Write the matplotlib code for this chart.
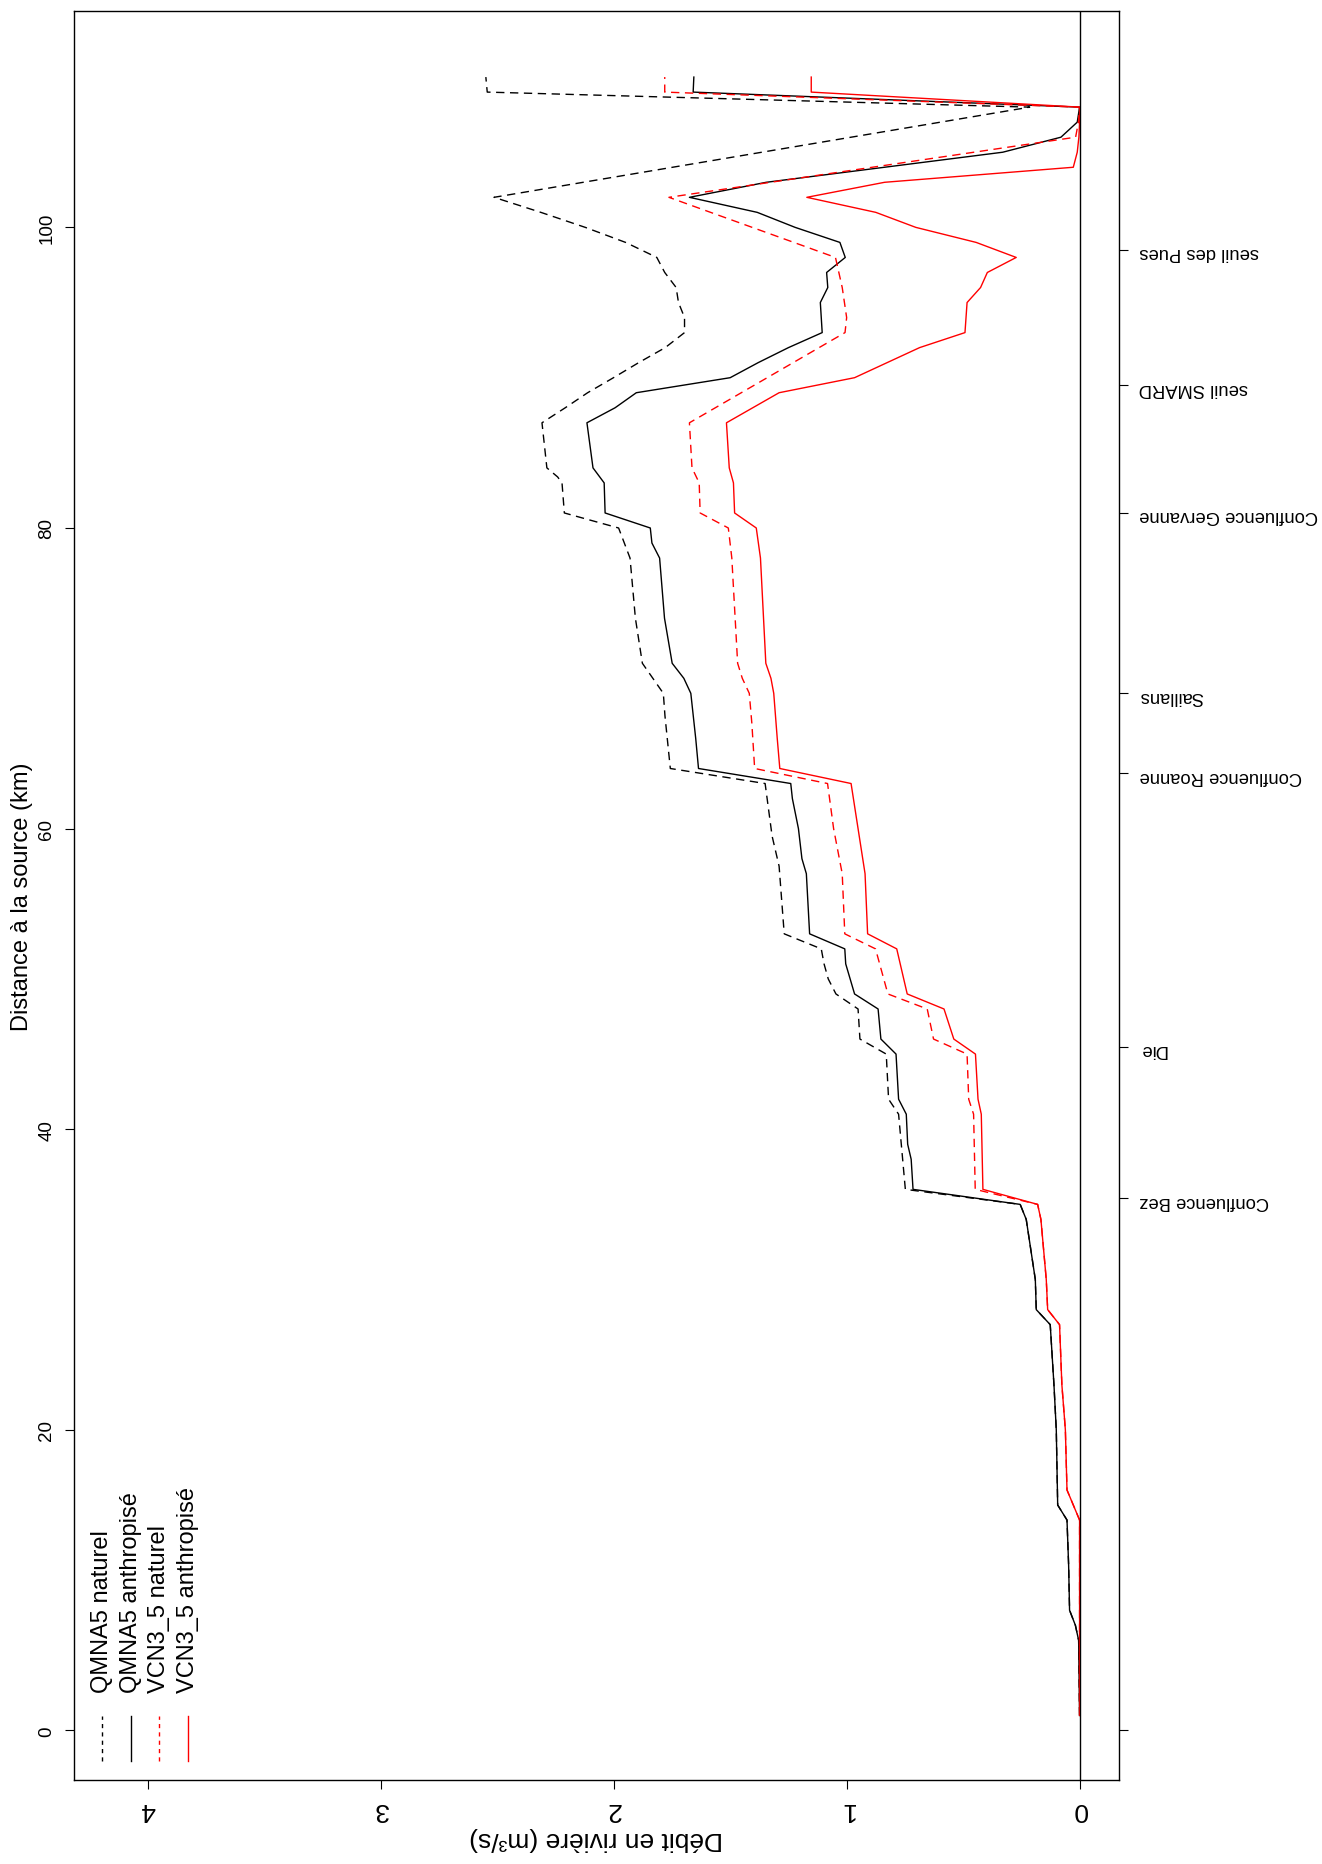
import matplotlib
matplotlib.use("Agg")
import matplotlib.pyplot as plt

plt.rcParams["font.family"] = ["Liberation Sans", "DejaVu Sans"]

# distance from source (km) and flow (m3/s)
qmna_nat_km = [1, 6, 7, 8, 11, 14, 15, 20, 23, 27, 28, 30, 34, 35, 36, 41, 42, 45,
               46, 48, 49, 50, 51, 52, 53, 57.5, 59.5, 63, 64, 67.5, 69, 70, 71, 74,
               78, 80, 81, 83, 83.4, 84, 87, 88, 89, 90, 91, 92, 93, 94, 95, 96, 97,
               98, 99, 100, 101, 102, 108, 109, 110]
qmna_nat = [0.0, 0.004, 0.018, 0.043, 0.047, 0.054, 0.094, 0.10, 0.11, 0.126, 0.186,
            0.19, 0.229, 0.255, 0.748, 0.777, 0.820, 0.830, 0.943, 0.951, 1.046, 1.079,
            1.097, 1.109, 1.268, 1.290, 1.320, 1.350, 1.757, 1.78, 1.787, 1.832, 1.877,
            1.907, 1.930, 1.979, 2.212, 2.222, 2.241, 2.287, 2.308, 2.208, 2.112, 2.001,
            1.893, 1.779, 1.696, 1.696, 1.722, 1.732, 1.781, 1.815, 1.949, 2.122, 2.313,
            2.514, 0.214, 2.543, 2.549]

qmna_anth_km = [1, 6, 7, 8, 11, 14, 15, 20, 23, 27, 28, 30, 34, 35, 36, 38, 39, 41, 42,
                45, 46, 48, 49, 51, 52, 53, 57, 58, 60, 62, 63, 64, 66, 69, 70, 71, 74,
                78, 79, 80, 81, 83, 84, 87, 88, 89, 90, 91, 92, 93, 95, 96, 97, 98, 99,
                100, 101, 102, 103, 105, 106, 107, 108, 109, 110]
qmna_anth = [0.0, 0.004, 0.018, 0.043, 0.047, 0.054, 0.094, 0.10, 0.11, 0.126, 0.186,
             0.19, 0.229, 0.255, 0.715, 0.723, 0.738, 0.744, 0.777, 0.788, 0.853, 0.865,
             0.966, 1.004, 1.008, 1.159, 1.173, 1.192, 1.207, 1.233, 1.240, 1.636, 1.648,
             1.669, 1.699, 1.749, 1.782, 1.803, 1.836, 1.843, 2.037, 2.041, 2.089, 2.115,
             1.994, 1.903, 1.500, 1.38, 1.25, 1.105, 1.113, 1.081, 1.086, 1.006, 1.029,
             1.221, 1.384, 1.675, 1.345, 0.33, 0.08, 0.01, 0.0, 1.659, 1.656]

vcn_nat_km = [1, 14, 16, 20, 23, 27, 28, 30, 34, 35, 36, 41, 42, 45, 46, 48, 49, 52, 53,
              57, 60, 63, 64, 67, 69, 70, 71, 78, 80, 81, 83, 84, 87, 93, 94, 96, 98,
              102, 106, 107, 108, 109, 110]
vcn_nat = [0.0, 0.0, 0.054, 0.061, 0.076, 0.086, 0.137, 0.143, 0.166, 0.180, 0.448,
           0.455, 0.476, 0.483, 0.627, 0.654, 0.823, 0.876, 1.008, 1.019, 1.056, 1.082,
           1.395, 1.407, 1.418, 1.448, 1.468, 1.493, 1.508, 1.629, 1.633, 1.664, 1.675,
           1.007, 1.0, 1.019, 1.048, 1.763, 0.017, 0.005, 0.0, 1.781, 1.781]

vcn_anth_km = [1, 14, 16, 20, 23, 27, 28, 30, 34, 35, 36, 41, 42, 45, 46, 48, 49, 52, 53,
               57, 60, 63, 64, 66, 69, 70, 71, 78, 80, 81, 83, 84, 87, 89, 90, 92, 93,
               95, 96, 97, 98, 99, 100, 101, 102, 103, 104, 105, 106, 107, 108, 109, 110]
vcn_anth = [0.0, 0.0, 0.054, 0.061, 0.076, 0.086, 0.137, 0.143, 0.166, 0.180, 0.415,
            0.422, 0.436, 0.447, 0.540, 0.582, 0.740, 0.785, 0.910, 0.921, 0.951, 0.981,
            1.287, 1.298, 1.313, 1.325, 1.347, 1.370, 1.388, 1.481, 1.486, 1.504, 1.516,
            1.290, 0.966, 0.687, 0.492, 0.483, 0.425, 0.396, 0.272, 0.444, 0.703, 0.875,
            1.171, 0.837, 0.027, 0.01, 0.003, 0.0, 0.0, 1.152, 1.152]

series_labels = ["QMNA5 naturel", "QMNA5 anthropisé", "VCN3_5 naturel", "VCN3_5 anthropisé"]

site_km = [0, 35.4, 45.5, 63.7, 69.0, 81.0, 89.5, 98.5]
site_names = ["", "Confluence Bez", "Die", "Confluence Roanne", "Saillans",
              "Confluence Gervanne", "seuil SMARD", "seuil des Pues"]

dist_ticks = [0, 20, 40, 60, 80, 100]
flow_ticks = [0, 1, 2, 3, 4]

DASH = (0, (6, 4))

fig = plt.figure(figsize=(13.22, 18.65), dpi=100)
ax = fig.add_axes([0.056, 0.045, 0.7904, 0.9486])

styles = [("black", DASH), ("black", "-"), ("red", DASH), ("red", "-")]
data = [(qmna_nat, qmna_nat_km), (qmna_anth, qmna_anth_km),
        (vcn_nat, vcn_nat_km), (vcn_anth, vcn_anth_km)]
for (q, km), (c, ls) in zip(data, styles):
    ax.plot(q, km, color=c, linestyle=ls, lw=1.0)

ax.axvline(0, color="black", lw=1.0)

ax.set_xlim(4.317, -0.169)
ax.set_ylim(-3.3, 114.4)

ax.set_xticks(flow_ticks)
ax.set_yticks(dist_ticks)
ax.tick_params(axis="x", labelrotation=180, labelsize=19, length=6.5, pad=6)
ax.tick_params(axis="y", labelrotation=90, labelsize=13.5, length=6.5, pad=7)
for lab in ax.get_yticklabels():
    lab.set_va("center")
for s in ax.spines.values():
    s.set_linewidth(1.0)

ax.set_xlabel("Débit en rivière (m³/s)", rotation=180, fontsize=19, labelpad=3)
ax.set_ylabel("Distance à la source (km)", fontsize=17, labelpad=4)

# named sites on the right-hand axis
ax2 = ax.secondary_yaxis("right")
ax2.set_yticks(site_km, site_names)
ax2.tick_params(axis="y", labelrotation=180, labelsize=13.2, length=6.5, pad=8)
ax2.spines["right"].set_visible(False)

# legend drawn by hand, rotated
lx = [0.0268, 0.0545, 0.0813, 0.109]
for x, lab, (c, ls) in zip(lx, series_labels, styles):
    ax.plot([x, x], [0.0107, 0.0362], transform=ax.transAxes, color=c,
            linestyle=ls if ls == "-" else (0, (3, 3)), lw=1.0)
    ax.text(x, 0.0497, lab, transform=ax.transAxes, rotation=90, fontsize=17,
            ha="center", va="bottom")

fig.savefig("out.png", dpi=100, facecolor="white")
